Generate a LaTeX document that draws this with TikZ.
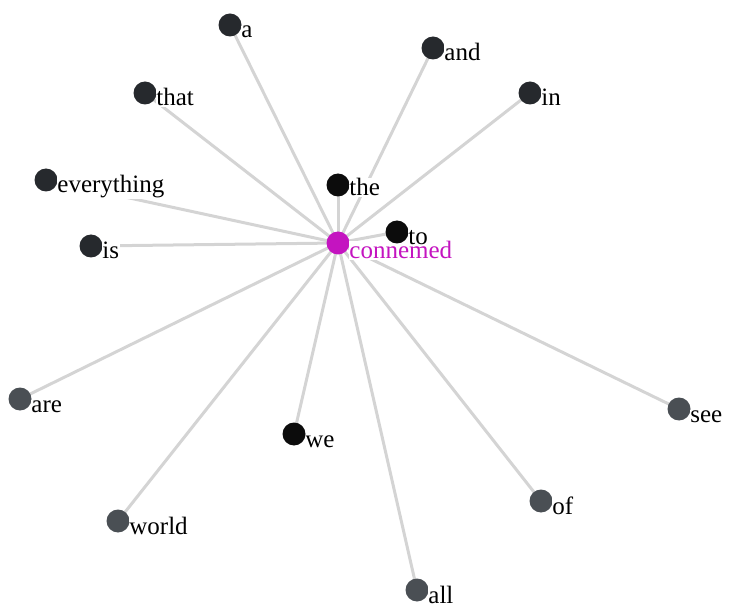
\documentclass[tikz,border=0pt]{standalone}
\usepackage{fontspec}
\setmainfont{Liberation Serif}
\usepackage{xcolor}
\usetikzlibrary{positioning,backgrounds}

\definecolor{hubmag}{HTML}{C414C0}
\definecolor{wblack}{HTML}{0C0C0C}
\definecolor{wdark}{HTML}{26292D}
\definecolor{wgray}{HTML}{4A4F54}
\definecolor{edgegray}{HTML}{D4D4D4}

\tikzset{
  word/.style={circle,minimum size=23pt,inner sep=0pt},
  lbl/.style={anchor=base west,yshift=-13pt,xshift=-1pt,fill=white,inner sep=0.5pt,font=\fontsize{25}{28}\selectfont},
  link/.style={edgegray,line width=3pt}
}

\begin{document}
\begin{tikzpicture}[x=1pt,y=-1pt]
\useasboundingbox (0,0) rectangle (729,604);

% hub word
\node[word,fill=hubmag,label={[lbl,text=hubmag,yshift=-3pt]right:connemed}] (conn) at (338,243) {};

% neighbouring words
\node[word,fill=wdark,label={[lbl]right:a}] (a) at (230,25) {};
\node[word,fill=wdark,label={[lbl]right:and}] (and) at (433,48) {};
\node[word,fill=wdark,label={[lbl]right:in}] (in) at (530,93) {};
\node[word,fill=wdark,label={[lbl]right:that}] (that) at (145,93) {};
\node[word,fill=wblack,label={[lbl,yshift=2pt]right:the}] (the) at (338,185) {};
\node[word,fill=wdark,label={[lbl]right:everything}] (every) at (46,180) {};
\node[word,fill=wblack,label={[lbl]right:to}] (to) at (397,232) {};
\node[word,fill=wdark,label={[lbl]right:is}] (is) at (91,246) {};
\node[word,fill=wgray,label={[lbl]right:are}] (are) at (20,399) {};
\node[word,fill=wblack,label={[lbl]right:we}] (we) at (294,434) {};
\node[word,fill=wgray,label={[lbl]right:see}] (see) at (679,409) {};
\node[word,fill=wgray,label={[lbl]right:of}] (of) at (541,501) {};
\node[word,fill=wgray,label={[lbl]right:world}] (world) at (118,521) {};
\node[word,fill=wgray,label={[lbl]right:all}] (all) at (417,590) {};

% links from the hub
\begin{scope}[on background layer]
\foreach \w in {a,and,in,that,the,every,to,is,are,we,see,of,world,all}
  \draw[link] (conn.center) -- (\w.center);
\end{scope}
\end{tikzpicture}
\end{document}
